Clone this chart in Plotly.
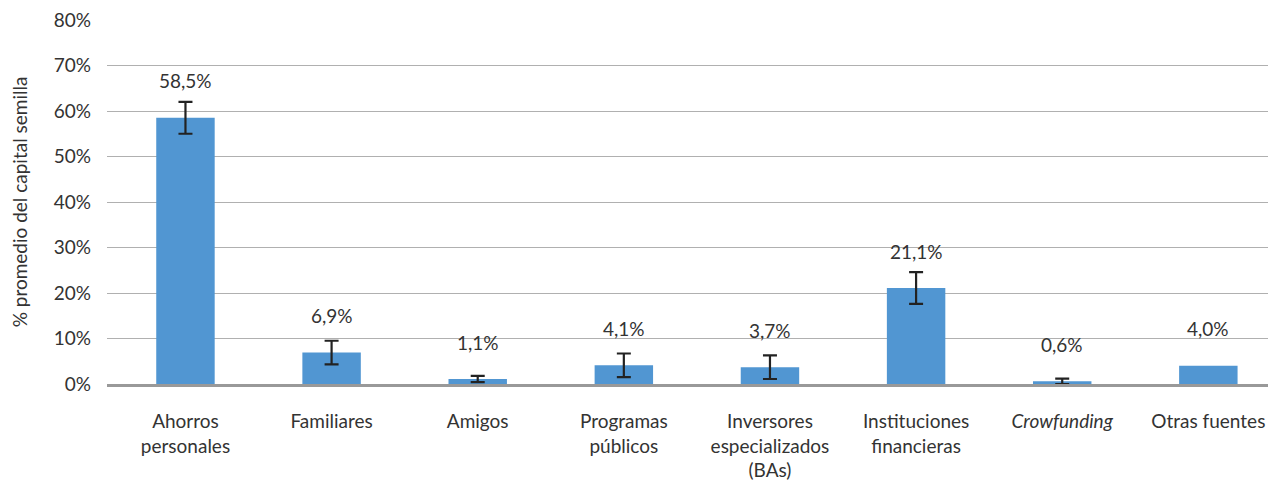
import plotly.graph_objects as go

# datos
fuentes = ["Ahorros<br>personales", "Familiares", "Amigos", "Programas<br>públicos",
           "Inversores<br>especializados<br>(BAs)", "Instituciones<br>financieras",
           "<i>Crowfunding</i>", "Otras fuentes"]
promedio = [58.5, 6.9, 1.1, 4.1, 3.7, 21.1, 0.6, 4.0]
error = [3.5, 2.6, 0.7, 2.6, 2.6, 3.5, 0.6, None]
etiquetas = ["58,5%", "6,9%", "1,1%", "4,1%", "3,7%", "21,1%", "0,6%", "4,0%"]

fuente = "Lato"
gris_texto = "#333333"

fig = go.Figure()
fig.add_trace(go.Bar(
    x=fuentes, y=promedio, width=0.4,
    marker=dict(color="#5196d2", line=dict(width=0)),
))
# barras de error solo donde hay dato
fig.add_trace(go.Scatter(
    x=fuentes, y=[v if e is not None else None for v, e in zip(promedio, error)],
    mode="markers", marker=dict(size=1, opacity=0),
    error_y=dict(type="data", array=error, visible=True,
                 color="#222222", thickness=2.2, width=7),
    hoverinfo="skip",
))

for f, v, t in zip(fuentes, promedio, etiquetas):
    fig.add_annotation(x=f, y=v, text=t, showarrow=False, yshift=37,
                       font=dict(family=fuente, size=19, color=gris_texto))

fig.update_layout(
    width=1276, height=482,
    margin=dict(l=99, r=8, t=12, b=106),
    plot_bgcolor="white", paper_bgcolor="white",
    showlegend=False,
    font=dict(family=fuente, size=19, color=gris_texto),
)
fig.update_yaxes(range=[0, 80], dtick=10, ticksuffix="%",
                 gridcolor="#b0b0b0", gridwidth=1,
                 zeroline=False, showline=False, automargin=False,
                 ticks="", ticklabelstandoff=15, ticklabeloverflow="allow",
                 title=dict(text="% promedio del capital semilla", standoff=26,
                            font=dict(family=fuente, size=19, color=gris_texto)))
fig.update_xaxes(range=[-0.537, 7.463],
                 showline=True, linecolor="#999999", linewidth=3,
                 ticks="", ticklabelstandoff=18, tickangle=0, automargin=False,
                 tickfont=dict(family=fuente, size=19, color=gris_texto))

fig.write_html("out.html")
